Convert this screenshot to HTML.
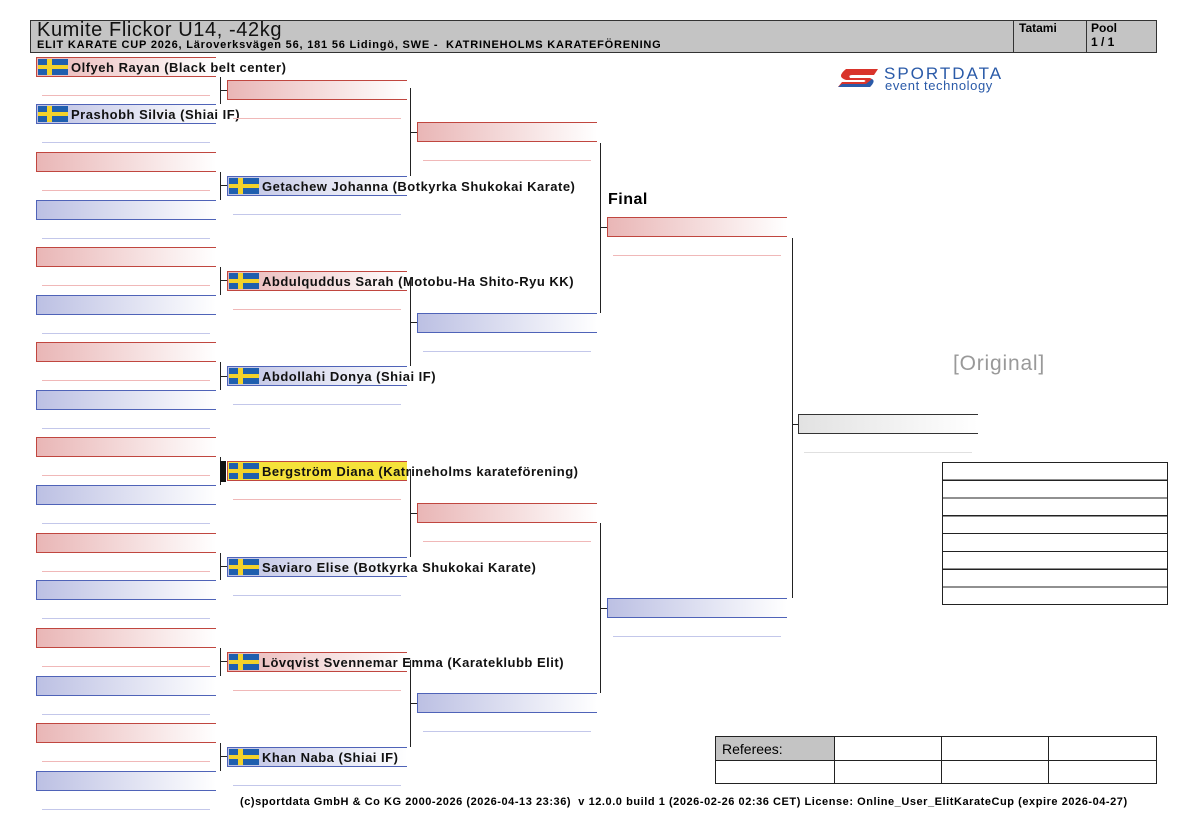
<!DOCTYPE html>
<html><head><meta charset="utf-8"><style>
body{margin:0;width:1200px;height:840px;background:#fff;position:relative;overflow:hidden;font-family:"Liberation Sans",Arial,sans-serif;}
div{position:absolute;box-sizing:border-box;}
.r{width:180px;height:20px;border:1px solid #c0463f;border-right:none;background:linear-gradient(90deg,#e9b6b6,#fff);}
.b{width:180px;height:20px;border:1px solid #4f63b8;border-right:none;background:linear-gradient(90deg,#bcc0e3,#fff);}
.y{width:180px;height:20px;border:1px solid #c0463f;border-right:none;background:#f5e23a;}
.ur{width:168px;height:1px;background:#f0b8b8;}
.ub{width:168px;height:1px;background:#c3c7ea;}
.v{width:1px;background:#222;}
.h{height:1px;width:7px;background:#222;}
.f{width:30px;height:16px;top:1px;left:1px;background:linear-gradient(90deg,transparent 9px,#f3d22a 9px,#f3d22a 14px,transparent 14px),linear-gradient(180deg,#1f5fae 6px,#f3d22a 6px,#f3d22a 10px,#1f5fae 10px);}
.n{left:34px;top:1px;font-size:13px;font-weight:bold;white-space:nowrap;color:#111;line-height:17px;letter-spacing:0.5px;}
</style></head><body>
<div style="left:30px;top:20px;width:1127px;height:33px;background:#c4c4c4;border:1px solid #333;"></div>
<div style="left:1013px;top:20px;width:1px;height:33px;background:#333;"></div>
<div style="left:1086px;top:20px;width:1px;height:33px;background:#333;"></div>
<div style="left:37px;top:19px;font-size:20px;line-height:22px;color:#111;letter-spacing:0.6px;">Kumite Flickor U14, -42kg</div>
<div style="left:37px;top:39px;font-size:11px;font-weight:bold;line-height:12px;white-space:nowrap;letter-spacing:0.8px;">ELIT KARATE CUP 2026, Läroverksvägen 56, 181 56 Lidingö, SWE -&nbsp; KATRINEHOLMS KARATEFÖRENING</div>
<div style="left:1019px;top:21px;font-size:12px;font-weight:bold;">Tatami</div>
<div style="left:1091px;top:21px;font-size:12px;font-weight:bold;line-height:14px;">Pool<br>1 / 1</div>
<div style="left:836px;top:67px;width:46px;height:23px;"><svg width="46" height="23"><path d="M10 2 H42 L38 8 H16 Q12 8 14 11 H34 Q40 13 34 20 H2 L6 15 H28 Q31 14 28 13 H10 Q0 10 10 2Z" fill="#d9342b"/><path d="M2 20 H34 Q40 14 36 12 L30 17 H6Z" fill="#2a5aa8"/></svg></div>
<div style="left:884px;top:65px;font-size:17px;color:#2a5aa8;letter-spacing:2px;line-height:17px;">SPORTDATA</div>
<div style="left:885px;top:79px;font-size:13px;color:#2a5aa8;line-height:13px;letter-spacing:0.6px;">event technology</div>

<!-- Round 1 -->
<div class="r" style="left:36px;top:57px"><div class="f"></div><div class="n">Olfyeh Rayan (Black belt center)</div></div><div class="ur" style="left:42px;top:95px"></div>
<div class="b" style="left:36px;top:104px"><div class="f"></div><div class="n">Prashobh Silvia (Shiai IF)</div></div><div class="ub" style="left:42px;top:142px"></div>
<div class="r" style="left:36px;top:152px"></div><div class="ur" style="left:42px;top:190px"></div>
<div class="b" style="left:36px;top:200px"></div><div class="ub" style="left:42px;top:238px"></div>
<div class="r" style="left:36px;top:247px"></div><div class="ur" style="left:42px;top:285px"></div>
<div class="b" style="left:36px;top:295px"></div><div class="ub" style="left:42px;top:333px"></div>
<div class="r" style="left:36px;top:342px"></div><div class="ur" style="left:42px;top:380px"></div>
<div class="b" style="left:36px;top:390px"></div><div class="ub" style="left:42px;top:428px"></div>
<div class="r" style="left:36px;top:437px"></div><div class="ur" style="left:42px;top:475px"></div>
<div class="b" style="left:36px;top:485px"></div><div class="ub" style="left:42px;top:523px"></div>
<div class="r" style="left:36px;top:533px"></div><div class="ur" style="left:42px;top:571px"></div>
<div class="b" style="left:36px;top:580px"></div><div class="ub" style="left:42px;top:618px"></div>
<div class="r" style="left:36px;top:628px"></div><div class="ur" style="left:42px;top:666px"></div>
<div class="b" style="left:36px;top:676px"></div><div class="ub" style="left:42px;top:714px"></div>
<div class="r" style="left:36px;top:723px"></div><div class="ur" style="left:42px;top:761px"></div>
<div class="b" style="left:36px;top:771px"></div><div class="ub" style="left:42px;top:809px"></div>

<!-- brackets R1->R2 -->
<div class="v" style="left:220px;top:77px;height:27px"></div><div class="h" style="left:220px;top:90px"></div>
<div class="v" style="left:220px;top:172px;height:28px"></div><div class="h" style="left:220px;top:185px"></div>
<div class="v" style="left:220px;top:267px;height:28px"></div><div class="h" style="left:220px;top:280px"></div>
<div class="v" style="left:220px;top:362px;height:28px"></div><div class="h" style="left:220px;top:376px"></div>
<div class="v" style="left:220px;top:457px;height:28px"></div><div style="left:220px;top:461px;width:6px;height:21px;background:#111;"></div>
<div class="v" style="left:220px;top:553px;height:27px"></div><div class="h" style="left:220px;top:566px"></div>
<div class="v" style="left:220px;top:648px;height:28px"></div><div class="h" style="left:220px;top:661px"></div>
<div class="v" style="left:220px;top:743px;height:28px"></div><div class="h" style="left:220px;top:756px"></div>

<!-- Round 2 -->
<div class="r" style="left:227px;top:80px"></div><div class="ur" style="left:233px;top:118px"></div>
<div class="b" style="left:227px;top:176px"><div class="f"></div><div class="n">Getachew Johanna (Botkyrka Shukokai Karate)</div></div><div class="ub" style="left:233px;top:214px"></div>
<div class="r" style="left:227px;top:271px"><div class="f"></div><div class="n">Abdulquddus Sarah (Motobu-Ha Shito-Ryu KK)</div></div><div class="ur" style="left:233px;top:309px"></div>
<div class="b" style="left:227px;top:366px"><div class="f"></div><div class="n">Abdollahi Donya (Shiai IF)</div></div><div class="ub" style="left:233px;top:404px"></div>
<div class="y" style="left:227px;top:461px"><div class="f"></div><div class="n">Bergström Diana (Katrineholms karateförening)</div></div><div class="ur" style="left:233px;top:499px"></div>
<div class="b" style="left:227px;top:557px"><div class="f"></div><div class="n">Saviaro Elise (Botkyrka Shukokai Karate)</div></div><div class="ub" style="left:233px;top:595px"></div>
<div class="r" style="left:227px;top:652px"><div class="f"></div><div class="n">Lövqvist Svennemar Emma (Karateklubb Elit)</div></div><div class="ur" style="left:233px;top:690px"></div>
<div class="b" style="left:227px;top:747px"><div class="f"></div><div class="n">Khan Naba (Shiai IF)</div></div><div class="ub" style="left:233px;top:785px"></div>

<!-- R2->R3 -->
<div class="v" style="left:410px;top:88px;height:88px"></div><div class="h" style="left:410px;top:132px"></div>
<div class="v" style="left:410px;top:279px;height:87px"></div><div class="h" style="left:410px;top:322px"></div>
<div class="v" style="left:410px;top:469px;height:88px"></div><div class="h" style="left:410px;top:513px"></div>
<div class="v" style="left:410px;top:660px;height:87px"></div><div class="h" style="left:410px;top:703px"></div>

<!-- Round 3 -->
<div class="r" style="left:417px;top:122px"></div><div class="ur" style="left:423px;top:160px"></div>
<div class="b" style="left:417px;top:313px"></div><div class="ub" style="left:423px;top:351px"></div>
<div class="r" style="left:417px;top:503px"></div><div class="ur" style="left:423px;top:541px"></div>
<div class="b" style="left:417px;top:693px"></div><div class="ub" style="left:423px;top:731px"></div>

<!-- R3->R4 -->
<div class="v" style="left:600px;top:143px;height:170px"></div><div class="h" style="left:600px;top:227px"></div>
<div class="v" style="left:600px;top:523px;height:170px"></div><div class="h" style="left:600px;top:608px"></div>

<div style="left:608px;top:191px;font-size:16px;font-weight:bold;letter-spacing:0.5px;">Final</div>
<div class="r" style="left:607px;top:217px"></div><div class="ur" style="left:613px;top:255px"></div>
<div class="b" style="left:607px;top:598px"></div><div class="ub" style="left:613px;top:636px"></div>

<div class="v" style="left:792px;top:238px;height:360px"></div><div class="h" style="left:792px;top:424px"></div>
<div style="left:798px;top:414px;width:180px;height:20px;border:1px solid #333;border-right:none;background:linear-gradient(90deg,#e2e2e2,#fff);"></div>
<div style="left:804px;top:452px;width:168px;height:1px;background:#e0e0e0;"></div>

<div style="left:953px;top:352px;font-size:21px;color:#999;letter-spacing:0.8px;">[Original]</div>

<!-- results table -->
<div style="left:942px;top:462px;width:226px;height:143px;border:1px solid #222;background:repeating-linear-gradient(180deg,transparent 0,transparent 16.6px,#222 16.6px,#222 17.8px);"></div>

<!-- referees -->
<div style="left:715px;top:736px;width:442px;height:48px;border:1px solid #222;"></div>
<div style="left:716px;top:737px;width:118px;height:23px;background:#c4c4c4;"></div>
<div style="left:715px;top:760px;width:442px;height:1px;background:#222;"></div>
<div style="left:834px;top:736px;width:1px;height:48px;background:#222;"></div>
<div style="left:941px;top:736px;width:1px;height:48px;background:#222;"></div>
<div style="left:1048px;top:736px;width:1px;height:48px;background:#222;"></div>
<div style="left:722px;top:741px;font-size:14px;">Referees:</div>

<div style="left:240px;top:796px;font-size:11px;font-weight:bold;white-space:nowrap;letter-spacing:0.55px;">(c)sportdata GmbH &amp; Co KG 2000-2026 (2026-04-13 23:36)&nbsp; v 12.0.0 build 1 (2026-02-26 02:36 CET) License: Online_User_ElitKarateCup (expire 2026-04-27)</div>
</body></html>
